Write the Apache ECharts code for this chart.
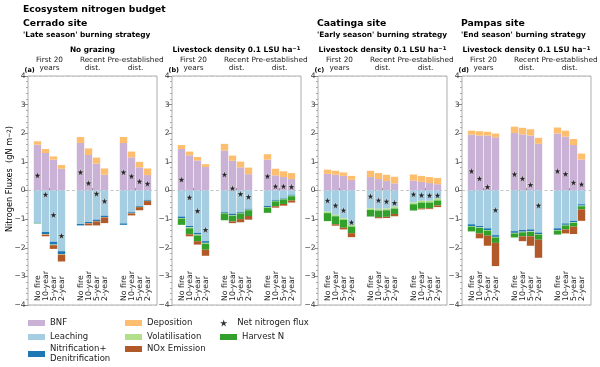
<!DOCTYPE html>
<html>
<head>
<meta charset="utf-8">
<script src="https://cdn.jsdelivr.net/npm/echarts@6/dist/echarts.min.js"></script>
<style>
  html, body { margin: 0; padding: 0; background: #fff; }
  #chart { width: 600px; height: 367px; }
</style>
</head>
<body>
<div id="chart"></div>
<script>
const fireRegimes = ['No fire', '10-year', '5-year', '2-year'];
const periods = ['First 20\nyears', 'Recent\ndist.', 'Pre-established\ndist.'];
const panelTags = ['(a)', '(b)', '(c)', '(d)'];
const siteNames = ['Cerrado site', '', 'Caatinga site', 'Pampas site'];
const strategies = ["'Late season' burning strategy", '', "'Early season' burning strategy", "'End season' burning strategy"];
const grazing = ['No grazing', 'Livestock density 0.1 LSU ha{sup|\u22121}', 'Livestock density 0.1 LSU ha{sup|\u22121}', 'Livestock density 0.1 LSU ha{sup|\u22121}'];

// one row per panel (a-d); 12 bars = 3 periods x 4 fire regimes
const bnf = [
  [1.60, 1.31, 1.08, 0.76, 1.66, 1.24, 0.94, 0.55, 1.66, 1.16, 0.81, 0.54],
  [1.45, 1.23, 1.05, 0.82, 1.40, 1.04, 0.81, 0.57, 1.08, 0.53, 0.47, 0.40],
  [0.58, 0.55, 0.51, 0.37, 0.47, 0.40, 0.33, 0.25, 0.35, 0.30, 0.26, 0.22],
  [1.95, 1.92, 1.92, 1.86, 2.01, 1.96, 1.92, 1.63, 1.99, 1.88, 1.59, 1.08]
];
const deposition = [
  [0.12, 0.14, 0.11, 0.13, 0.21, 0.23, 0.21, 0.22, 0.21, 0.20, 0.19, 0.23],
  [0.14, 0.13, 0.12, 0.10, 0.23, 0.18, 0.20, 0.23, 0.19, 0.23, 0.20, 0.21],
  [0.15, 0.14, 0.12, 0.14, 0.22, 0.21, 0.22, 0.23, 0.21, 0.21, 0.21, 0.22],
  [0.14, 0.15, 0.13, 0.13, 0.22, 0.23, 0.22, 0.21, 0.21, 0.21, 0.21, 0.21]
];
const leaching = [
  [-1.13, -1.45, -1.79, -2.12, -1.17, -1.10, -1.02, -0.88, -1.15, -0.76, -0.54, -0.33],
  [-0.91, -1.24, -1.48, -1.77, -0.75, -0.81, -0.75, -0.64, -0.54, -0.33, -0.27, -0.15],
  [-0.74, -0.85, -0.97, -1.20, -0.62, -0.64, -0.63, -0.57, -0.42, -0.36, -0.36, -0.29],
  [-1.18, -1.24, -1.32, -1.56, -1.42, -1.38, -1.36, -1.47, -1.32, -1.15, -1.06, -0.48]
];
const nitDenit = [
  [-0.02, -0.07, -0.10, -0.10, -0.05, -0.04, -0.05, -0.05, -0.05, -0.03, -0.03, -0.03],
  [-0.05, -0.05, -0.06, -0.06, -0.03, -0.05, -0.03, -0.03, -0.04, -0.03, -0.02, -0.03],
  [0, 0, 0, 0, 0, 0, 0, 0, 0, 0, 0, 0],
  [-0.06, -0.05, -0.06, -0.06, -0.06, -0.06, -0.07, -0.05, -0.06, -0.05, -0.05, -0.05]
];
const volatilisation = [
  [-0.02, -0.02, -0.02, -0.02, 0, -0.01, -0.01, -0.01, 0, -0.01, -0.01, -0.01],
  [-0.02, -0.03, -0.03, -0.03, -0.02, -0.02, -0.02, -0.02, -0.02, -0.02, -0.02, -0.02],
  [-0.05, -0.05, -0.05, -0.06, -0.06, -0.06, -0.06, -0.06, -0.06, -0.06, -0.06, -0.06],
  [-0.02, -0.02, -0.02, -0.02, -0.02, -0.02, -0.02, -0.02, -0.02, -0.02, -0.02, -0.02]
];
const harvestN = [
  [0, 0, 0, 0, 0, 0, 0, 0, 0, 0, 0, 0],
  [-0.22, -0.21, -0.20, -0.21, -0.24, -0.20, -0.20, -0.20, -0.18, -0.17, -0.16, -0.15],
  [-0.28, -0.28, -0.28, -0.23, -0.23, -0.23, -0.23, -0.19, -0.22, -0.21, -0.20, -0.17],
  [-0.17, -0.19, -0.18, -0.19, -0.14, -0.14, -0.15, -0.18, -0.14, -0.14, -0.13, -0.11]
];
const noxEmission = [
  [0, -0.06, -0.13, -0.24, 0, -0.07, -0.14, -0.20, 0, -0.07, -0.11, -0.14],
  [0, -0.07, -0.12, -0.21, 0, -0.06, -0.11, -0.13, 0, -0.05, -0.06, -0.07],
  [0, -0.05, -0.06, -0.14, 0, -0.04, -0.04, -0.08, 0, -0.03, -0.03, -0.06],
  [0, -0.17, -0.35, -0.81, 0, -0.17, -0.33, -0.63, 0, -0.14, -0.26, -0.40]
];
const netFlux = [
  [0.53, -0.14, -0.85, -1.58, 0.64, 0.26, -0.11, -0.37, 0.64, 0.50, 0.32, 0.24],
  [0.38, -0.24, -0.71, -1.37, 0.56, 0.08, -0.12, -0.22, 0.50, 0.15, 0.15, 0.13],
  [-0.35, -0.52, -0.69, -1.11, -0.20, -0.34, -0.38, -0.43, -0.13, -0.16, -0.17, -0.17],
  [0.68, 0.42, 0.13, -0.68, 0.57, 0.42, 0.20, -0.52, 0.68, 0.58, 0.28, 0.22]
];

const FONT = '"DejaVu Sans", sans-serif';
const STAR = 'path://M0,-10L2.25,-3.09L9.51,-3.09L3.63,1.18L5.88,8.09L0,3.82L-5.88,8.09L-3.63,1.18L-9.51,-3.09L-2.25,-3.09Z';

// stacking order: positives up from 0, negatives down from 0
const components = [
  { name: 'BNF', data: bnf, color: '#cab2d6' },
  { name: 'Deposition', data: deposition, color: '#fdbf6f' },
  { name: 'Leaching', data: leaching, color: '#a6cee3' },
  { name: 'Nitrification+Denitrification', data: nitDenit, color: '#1f78b4' },
  { name: 'Volatilisation', data: volatilisation, color: '#b2df8a' },
  { name: 'Harvest N', data: harvestN, color: '#33a02c' },
  { name: 'NOx Emission', data: noxEmission, color: '#b15928' }
];

const panelLeft = [28, 172, 318, 462];
const panelW = 129, panelTop = 76, panelH = 229;

const minus = v => (v < 0 ? '\u2212' + (-v) : String(v));
const grid = [], xAxis = [], yAxis = [], series = [];
const graphic = [];

const text = (str, x, y, size, extra) => ({
  type: 'text', x, y, silent: true,
  style: Object.assign({
    text: str, fontFamily: FONT, fontSize: size, fontWeight: 'bold', fill: '#000',
    align: 'left', verticalAlign: 'middle',
    rich: { sup: { fontSize: size * 0.72, fontWeight: 'bold', fontFamily: FONT, verticalAlign: 'top', lineHeight: size * 0.8 } }
  }, extra || {})
});

graphic.push(text('Ecosystem nitrogen budget', 23, 10, 9.2));

panelLeft.forEach((L, p) => {
  // frame of the panel: period labels on top, y scale on the left
  const fi = grid.length;
  grid.push({ left: L, top: panelTop, width: panelW, height: panelH, show: true,
    borderColor: '#9a9a9a', borderWidth: 0.8, backgroundColor: 'transparent', outerBoundsMode: 'none' });
  xAxis.push({ type: 'category', gridIndex: fi, position: 'top', data: periods,
    axisLine: { show: false }, splitLine: { show: false },
    axisTick: { show: true, alignWithLabel: true, length: 2.5, lineStyle: { color: '#888' } },
    axisLabel: { interval: 0, margin: 3, fontSize: 7.3, lineHeight: 8.8, color: '#222', fontFamily: FONT } });
  yAxis.push({ type: 'value', gridIndex: fi, min: -4, max: 4, interval: 1,
    axisLine: { show: false }, splitLine: { show: false },
    axisTick: { show: true, length: 3.5, lineStyle: { color: '#888' } },
    minorTick: { show: true, splitNumber: 5, length: 2, lineStyle: { color: '#aaa' } },
    axisLabel: { fontSize: 7.5, margin: 2.5, color: '#333', fontFamily: FONT, formatter: minus } });

  // one small grid per period holding its four stacked bars
  for (let g = 0; g < 3; g++) {
    const gi = grid.length;
    const cx = L + panelW * (2 * g + 1) / 6;
    grid.push({ left: cx - 16, top: panelTop, width: 32, height: panelH, outerBoundsMode: 'none' });
    xAxis.push({ type: 'category', gridIndex: gi, data: fireRegimes,
      axisLine: { show: false }, axisTick: { show: false },
      axisLabel: { inside: true, rotate: 90, interval: 0, margin: 4, fontSize: 7.8, color: '#222', fontFamily: FONT } });
    yAxis.push({ type: 'value', gridIndex: gi, min: -4, max: 4, show: false });
    components.forEach(c => series.push({
      type: 'bar', name: c.name, stack: 'flux' + gi, xAxisIndex: gi, yAxisIndex: gi,
      barWidth: 7.4, itemStyle: { color: c.color }, data: c.data[p].slice(g * 4, g * 4 + 4)
    }));
    series.push({ type: 'scatter', name: 'Net nitrogen flux', xAxisIndex: gi, yAxisIndex: gi,
      symbol: STAR, symbolSize: 7, z: 5,
      itemStyle: { color: '#000', borderColor: '#fff', borderWidth: 0.4 },
      data: netFlux[p].slice(g * 4, g * 4 + 4) });
  }

  graphic.push(text(panelTags[p], L - 3.5, 70, 6.5));
  graphic.push(text(grazing[p], L + panelW / 2, 50, 7.4, { align: 'center' }));
  if (siteNames[p]) {
    const tx = p === 0 ? 23 : L - 1;
    graphic.push(text(siteNames[p], tx, 23.5, 9.3));
    graphic.push(text(strategies[p], tx, 35.5, 7.4));
  }
});

// dashed zero line: a second y axis on each frame whose only inner split line is 0
panelLeft.forEach((L, p) => {
  const fi = p * 4;
  yAxis.push({ type: 'value', gridIndex: fi, min: -4, max: 4, interval: 4, z: 0,
    axisLine: { show: false }, axisTick: { show: false }, axisLabel: { show: false },
    splitLine: { show: true, lineStyle: { type: [3, 2.5], color: '#c4c4c4', width: 1 } } });
});

graphic.push(Object.assign(text('Nitrogen Fluxes  (gN m{sup|\u22122})', 10, 179, 8.2, { align: 'center', fontWeight: 'normal' }), { rotation: Math.PI / 2 }));
graphic[graphic.length - 1].style.rich.sup.fontWeight = 'normal';

const legendItems = [
  ['BNF', 28, 323, 1], ['Leaching', 28, 337, 1], ['Nitrification+Denitrification', 28, 354, 2],
  ['Deposition', 125, 323, 1], ['Volatilisation', 125, 337, 1], ['NOx Emission', 125, 349, 1],
  ['Net nitrogen flux', 220, 323, 1], ['Harvest N', 220, 337, 1]
];
const legend = legendItems.map(([name, x, y, lines]) => ({
  left: x, top: y - lines * 5, padding: 0, selectedMode: false,
  itemWidth: 17, itemHeight: name === 'Net nitrogen flux' ? 7 : 6,
  data: [name === 'Net nitrogen flux'
    ? { name, icon: STAR, itemStyle: { color: '#000', borderWidth: 0 } }
    : { name, icon: 'rect' }],
  formatter: n => (n === 'Nitrification+Denitrification' ? 'Nitrification+\nDenitrification' : n),
  textStyle: { fontSize: 8.5, lineHeight: 10, color: '#222', fontFamily: FONT }
}));

const chart = echarts.init(document.getElementById('chart'));
chart.setOption({
  animation: false,
  backgroundColor: '#fff',
  textStyle: { fontFamily: FONT },
  grid, xAxis, yAxis, series, legend, graphic
});
</script>
</body>
</html>
